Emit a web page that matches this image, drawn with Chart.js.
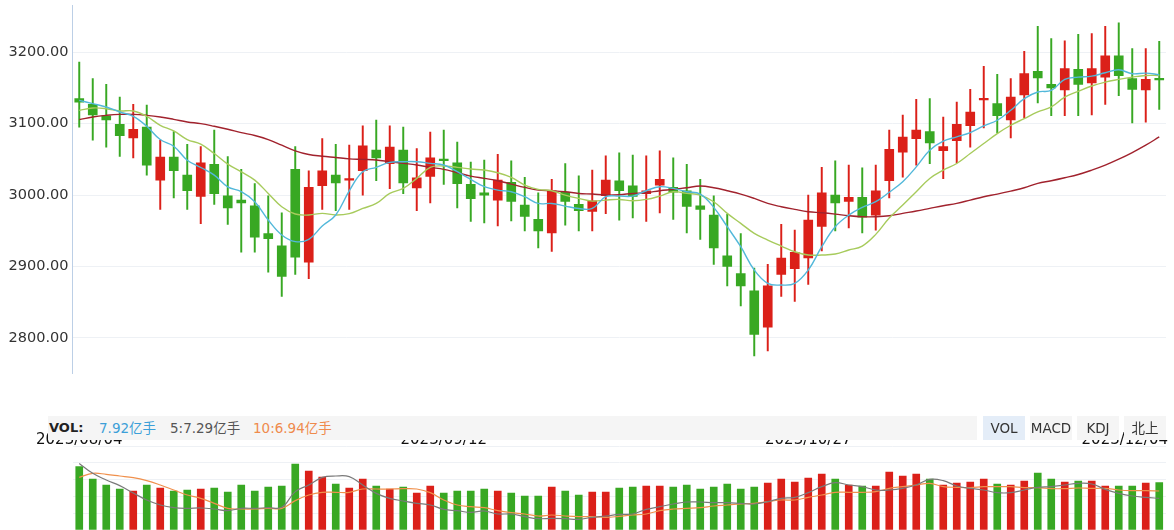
<!DOCTYPE html>
<html>
<head>
<meta charset="utf-8">
<script src="https://cdn.jsdelivr.net/npm/chart.js@4.4.0/dist/chart.umd.min.js"></script>
<style>
body { margin: 0; background: #fff; width: 1174px; height: 530px; overflow: hidden; position: relative;
       font-family: "DejaVu Sans", "Noto Sans CJK SC", sans-serif; }
#kline { position: absolute; left: 0; top: 0; }
#vol { position: absolute; left: 0; top: 430px; }
.volbar { position: absolute; left: 48px; top: 416px; width: 929px; height: 24px; background: #f5f5f5; z-index: 2; }
.volbar span { position: absolute; top: 0; line-height: 24px; font-size: 13.5px; white-space: nowrap; }
.btn { position: absolute; top: 416px; width: 42px; height: 24px; line-height: 24px; text-align: center;
       font-size: 13.5px; color: #333; background: #f5f5f5; z-index: 2; }
</style>
</head>
<body>
<canvas id="kline" width="1174" height="380"></canvas>
<canvas id="vol" width="1174" height="100"></canvas>

<div class="volbar">
  <span style="left:1px;font-weight:bold;font-size:13px;color:#222">VOL:</span>
  <span style="left:51px;color:#3c9fd8">7.92亿手</span>
  <span style="left:122px;color:#555">5:7.29亿手</span>
  <span style="left:205px;color:#ef8a4c">10:6.94亿手</span>
</div>
<div class="btn" style="left:983px;background:#e4edf8">VOL</div>
<div class="btn" style="left:1030px">MACD</div>
<div class="btn" style="left:1077px">KDJ</div>
<div class="btn" style="left:1124px">北上</div>

<script>
const dates = [
  '2023/08/04','2023/08/07','2023/08/08','2023/08/09','2023/08/10','2023/08/11','2023/08/14','2023/08/15',
  '2023/08/16','2023/08/17','2023/08/18','2023/08/21','2023/08/22','2023/08/23','2023/08/24','2023/08/25',
  '2023/08/28','2023/08/29','2023/08/30','2023/08/31','2023/09/01','2023/09/04','2023/09/05','2023/09/06',
  '2023/09/07','2023/09/08','2023/09/11','2023/09/12','2023/09/13','2023/09/14','2023/09/15','2023/09/18',
  '2023/09/19','2023/09/20','2023/09/21','2023/09/22','2023/09/25','2023/09/26','2023/09/27','2023/09/28',
  '2023/10/09','2023/10/10','2023/10/11','2023/10/12','2023/10/13','2023/10/16','2023/10/17','2023/10/18',
  '2023/10/19','2023/10/20','2023/10/23','2023/10/24','2023/10/25','2023/10/26','2023/10/27','2023/10/30',
  '2023/10/31','2023/11/01','2023/11/02','2023/11/03','2023/11/06','2023/11/07','2023/11/08','2023/11/09',
  '2023/11/10','2023/11/13','2023/11/14','2023/11/15','2023/11/16','2023/11/17','2023/11/20','2023/11/21',
  '2023/11/22','2023/11/23','2023/11/24','2023/11/27','2023/11/28','2023/11/29','2023/11/30','2023/12/01',
  '2023/12/04'
];
const dateTickIdx = [0, 27, 54, 80];

const opens = [3135,3127,3111,3099,3080,3095,3021,3053,3028,2998,3043,2999,2993,2985,2946,2929,3036,2906,3013,3028,
  3021,3034,3063,3044,3063,3010,3026,3050,3045,3015,3003,2993,3018,2986,2966,2947,3004,2987,2977,2999,
  3020,3013,3002,3014,3011,3006,2985,2972,2915,2890,2866,2815,2889,2897,2912,2956,3000,2991,2997,2972,
  3020,3060,3079,3089,3062,3076,3097,3133,3128,3105,3140,3173,3155,3147,3176,3157,3165,3195,3163,3147,3162];
const highs = [3186,3163,3155,3137,3127,3126,3077,3089,3071,3068,3091,3054,3036,3016,2999,2975,3068,3034,3079,3071,
  3070,3097,3105,3097,3095,3065,3088,3091,3074,3046,3049,3057,3048,3025,3003,3022,3044,3027,3035,3055,
  3059,3056,3055,3062,3052,3043,3022,2999,2973,2946,2898,2903,2959,2951,3000,3039,3048,3042,3038,3042,
  3091,3112,3134,3135,3109,3130,3148,3180,3169,3163,3201,3236,3219,3216,3225,3226,3236,3241,3205,3205,3215];
const lows = [3095,3077,3067,3054,3052,3028,2980,2996,2980,2960,2987,2959,2920,2920,2892,2858,2889,2883,2980,2978,
  2980,3000,3020,3009,3002,2978,2989,3015,2982,2963,2961,2957,2964,2950,2926,2921,2958,2950,2950,2974,
  2965,2968,2963,2975,2966,2947,2938,2903,2873,2845,2775,2782,2858,2851,2875,2922,2950,2954,2947,2951,
  2996,3025,3042,3044,3023,3045,3067,3094,3087,3080,3108,3129,3111,3111,3111,3112,3127,3139,3101,3102,3120];
const closes = [3130,3112,3105,3083,3092,3042,3053,3034,3006,3045,3002,2982,2989,2941,2939,2886,2913,3011,3034,3017,
  3022,3069,3052,3067,3017,3024,3052,3048,3016,2995,3000,3021,2991,2970,2950,3006,2991,2978,2992,3021,
  3006,2998,3006,3022,3004,2984,2980,2926,2900,2873,2805,2873,2912,2920,2965,3003,2989,2997,2969,3006,
  3064,3081,3091,3073,3068,3099,3116,3135,3111,3137,3170,3164,3150,3177,3155,3177,3195,3167,3148,3162,3161];

const ma5 = [3132.6,3128.0,3123.3,3116.3,3110.2,3096.3,3077.7,3068.4,3048.8,3038.6,3027.9,3011.6,3004.7,2990.7,2965.1,
  2944.2,2934.9,2938.1,2956.7,2972.1,3006.0,3032.7,3038.8,3045.8,3046.7,3046.7,3044.4,3042.1,3032.7,3022.0,
  3011.7,3007.0,3004.7,2997.7,2988.3,2988.3,2984.6,2981.3,2981.3,2997.7,2998.6,2998.6,3006.1,3011.7,3009.3,
  3004.7,3001.4,2982.8,2955.7,2927.7,2895.1,2876.5,2874.1,2876.5,2895.1,2927.7,2955.7,2972.0,2982.8,2990.7,
  3004.0,3018.6,3039.5,3062.8,3075.4,3081.4,3087.4,3096.7,3104.7,3118.6,3134.9,3144.2,3146.5,3161.9,3165.1,
  3166.5,3171.2,3175.3,3169.8,3170.7,3168.4];
const ma10 = [3118.6,3121.9,3120.9,3117.7,3117.7,3110.2,3097.7,3089.8,3077.7,3071.2,3058.1,3043.3,3032.6,3020.9,3002.3,
  2983.7,2973.5,2972.1,2974.4,2972.1,2974.0,2981.3,2988.3,3002.3,3009.3,3023.4,3038.8,3040.7,3038.8,3036.4,
  3035.0,3031.3,3024.8,3014.0,3007.9,3006.1,3000.0,2995.3,2991.6,2993.0,2993.9,2992.1,2993.9,2998.6,3004.7,
  3002.3,3000.0,2990.7,2974.4,2960.4,2946.4,2937.1,2928.7,2920.7,2916.1,2916.1,2917.5,2923.1,2928.7,2945.0,
  2968.0,2986.0,3004.7,3023.3,3034.9,3044.2,3058.1,3072.1,3086.0,3097.7,3107.0,3116.3,3123.3,3137.2,3145.1,
  3152.6,3158.1,3161.9,3165.1,3167.4,3167.4];
const ma60 = [3105.6,3109.3,3111.6,3113.0,3113.0,3111.6,3109.3,3106.0,3102.3,3100.0,3096.3,3092.1,3087.4,3083.3,3077.7,
  3069.8,3061.9,3056.7,3054.4,3052.6,3050.7,3050.0,3049.1,3046.7,3044.4,3042.1,3038.8,3036.0,3031.3,3026.6,
  3023.4,3020.1,3015.4,3010.7,3007.0,3006.1,3004.7,3002.3,3001.4,3000.0,3000.5,3002.3,3003.3,3006.1,3007.9,
  3010.3,3012.6,3010.3,3006.1,3001.4,2995.3,2988.3,2983.7,2980.0,2976.7,2975.3,2973.4,2971.1,2969.7,2969.7,
  2971.0,2974.4,2977.7,2981.4,2985.1,2988.4,2993.0,2997.7,3001.4,3005.6,3010.2,3016.3,3020.0,3024.2,3028.8,
  3034.9,3041.9,3050.2,3059.5,3069.8,3081.4];

// volume in 亿手
const volumes = [10.56,8.5,7.5,6.83,6.5,7.5,7.0,6.5,6.67,6.83,7.0,6.33,7.5,6.5,7.17,7.33,11.0,9.83,8.83,7.67,
  7.0,8.5,7.33,6.83,7.17,6.17,7.33,6.17,6.5,6.5,6.83,6.5,6.17,5.67,5.67,7.17,6.5,5.83,6.33,6.33,
  7.0,7.17,7.33,7.33,7.17,7.5,6.83,7.17,7.67,6.83,7.17,7.83,8.5,8.0,8.67,9.33,8.5,7.5,7.33,7.33,
  9.67,9.0,9.33,8.5,7.5,7.83,8.0,8.5,7.67,7.5,8.17,9.5,8.5,8.0,8.17,8.17,7.33,7.33,7.33,7.83,7.92];
const volMa5 = [11.1,9.44,8.33,7.39,6.17,5.0,4.17,3.72,3.61,3.67,3.5,3.22,3.61,3.61,3.72,3.78,6.39,7.5,8.78,9.0,
  8.89,7.5,6.11,5.28,4.83,4.44,4.17,3.44,3.22,2.94,3.17,2.67,2.67,2.22,1.89,1.94,1.89,1.78,2.11,2.33,
  2.6,2.67,3.44,3.89,4.33,4.67,4.67,4.56,4.56,4.44,4.33,4.72,5.28,5.44,6.22,7.22,7.89,7.5,7.22,6.67,
  6.67,6.94,7.5,8.44,8.22,7.33,6.94,6.67,6.22,6.22,6.67,7.11,7.22,7.5,7.78,7.67,6.78,6.11,5.67,5.44,5.28];
const volMa10 = [8.78,9.44,9.28,9.0,8.72,8.22,7.5,6.67,5.83,5.28,4.44,3.61,3.5,3.5,3.61,3.61,4.89,5.83,6.28,6.28,
  6.28,6.83,6.83,6.83,6.89,6.83,6.22,5.0,4.17,3.89,3.72,3.22,2.89,2.67,2.33,2.5,2.33,2.22,2.22,2.11,
  2.28,2.5,2.67,3.22,3.5,3.61,3.72,4.0,4.17,4.33,4.44,4.72,5.0,5.0,5.44,5.83,6.28,6.28,6.28,6.39,
  6.94,7.22,7.5,7.78,7.22,7.11,7.06,7.22,7.22,7.22,7.06,7.06,6.89,6.89,7.0,6.94,6.94,6.67,6.56,6.56,6.5];

const priceTicks = [2800, 2900, 3000, 3100, 3200];
const volTicks = [0, 2.8, 5.6, 8.4, 11.2, 14];

const UP = '#db2019';
const DOWN = '#38a823';
const candleColors = closes.map((c, i) => c >= opens[i] ? UP : DOWN);

// fixed axis width, and no extra label padding so the plot area is exactly where the layout puts it
const fixAxis = scale => {
  scale.width = 72.5;
  scale.paddingTop = 0;
  scale.paddingBottom = 0;
};

new Chart(document.getElementById('kline'), {
  type: 'bar',
  data: {
    labels: dates,
    datasets: [
      { type: 'line', data: ma5, borderColor: '#52b8da', borderWidth: 1.4, pointRadius: 0, tension: 0.4, order: 0 },
      { type: 'line', data: ma10, borderColor: '#a7cb5c', borderWidth: 1.4, pointRadius: 0, tension: 0.4, order: 0 },
      { type: 'line', data: ma60, borderColor: '#a1222d', borderWidth: 1.4, pointRadius: 0, tension: 0.4, order: 0 },
      { data: lows.map((l, i) => [l, highs[i]]), backgroundColor: candleColors, barThickness: 1.3, grouped: false, order: 2 },
      { data: opens.map((o, i) => [o, closes[i]]), backgroundColor: candleColors, barThickness: 9, grouped: false,
        minBarLength: 1.6, order: 1 }
    ]
  },
  options: {
    responsive: false,
    animation: false,
    layout: { padding: { top: 5, right: 8, bottom: 7, left: 0 } },
    plugins: { legend: { display: false }, tooltip: { enabled: false } },
    scales: {
      x: { display: false, offset: true },
      y: {
        min: 2751, max: 3266,
        afterBuildTicks: scale => { scale.ticks = priceTicks.map(v => ({ value: v })); },
        afterFit: fixAxis,
        grid: { color: '#eef1f5', drawTicks: false },
        border: { color: '#bccfe6' },
        ticks: { color: '#333', padding: 4, font: { family: 'DejaVu Sans', size: 14.5 },
                 callback: v => v.toFixed(2) }
      }
    }
  }
});

const dateLabels = {
  id: 'dateLabels',
  afterDraw(chart) {
    const { ctx } = chart;
    const x = chart.scales.x;
    ctx.save();
    ctx.font = '15px "DejaVu Sans"';
    ctx.fillStyle = '#111';
    ctx.textBaseline = 'middle';
    dateTickIdx.forEach(i => {
      const text = dates[i];
      const w = ctx.measureText(text).width;
      let left = x.getPixelForValue(i) - w / 2;
      left = Math.min(left, chart.width - 6 - w);
      ctx.fillText(text, left, 10);
    });
    ctx.restore();
  }
};

new Chart(document.getElementById('vol'), {
  type: 'bar',
  data: {
    labels: dates,
    datasets: [
      { type: 'line', data: volMa5, borderColor: '#7a7a7a', borderWidth: 1.2, pointRadius: 0, tension: 0.4, order: 0 },
      { type: 'line', data: volMa10, borderColor: '#f0904c', borderWidth: 1.2, pointRadius: 0, tension: 0.4, order: 0 },
      { data: volumes, backgroundColor: candleColors, barThickness: 7, order: 1 }
    ]
  },
  options: {
    responsive: false,
    animation: false,
    layout: { padding: { top: 16, right: 8, bottom: 0, left: 0 } },
    plugins: { legend: { display: false }, tooltip: { enabled: false } },
    scales: {
      x: { display: false, offset: true },
      y: {
        min: 0, max: 14,
        afterBuildTicks: scale => { scale.ticks = volTicks.map(v => ({ value: v })); },
        afterFit: fixAxis,
        grid: { color: '#eef1f5', drawTicks: false },
        border: { display: false },
        ticks: { display: false }
      }
    }
  },
  plugins: [dateLabels]
});
</script>
</body>
</html>
